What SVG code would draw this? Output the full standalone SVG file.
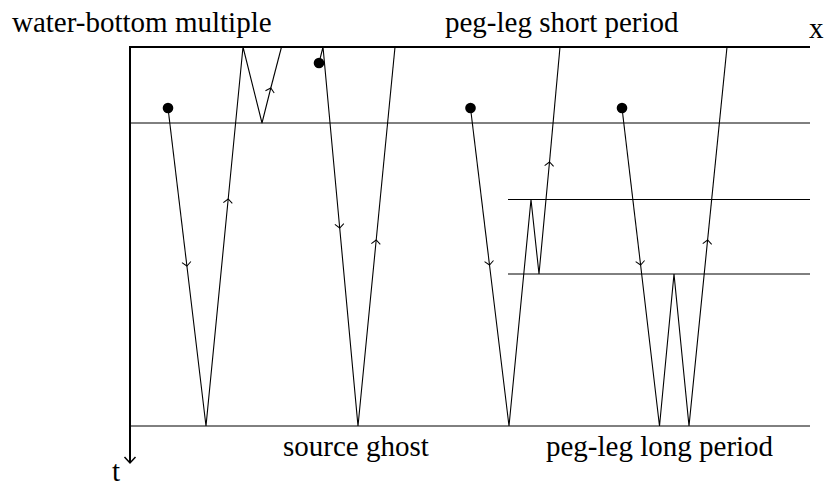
<svg xmlns="http://www.w3.org/2000/svg" width="827" height="488" viewBox="0 0 827 488">
<style>
.lbl{font-family:"Liberation Serif","Times New Roman",serif;font-size:29px;fill:#000}
.ray{fill:none;stroke:#000;stroke-width:1.1}
.hz{fill:none;stroke:#000;stroke-width:1}
.frame{fill:none;stroke:#000;stroke-width:2}
.dot{fill:#000}
</style>
<defs>
<marker id="arr" markerUnits="userSpaceOnUse" markerWidth="12" markerHeight="12" viewBox="-6 -6 12 12" refX="0" refY="0" orient="auto">
<path d="M-4,-4.5 L0,0 L-4,4.5" fill="none" stroke="#000" stroke-width="1"/>
</marker>
</defs>
<rect width="827" height="488" fill="#fff"/>
<g id="axes">
<line class="frame" x1="129" y1="47" x2="810" y2="47"/>
<line class="frame" x1="130" y1="47" x2="130" y2="462"/>
<path d="M124.5,457 L130,463 L135.5,457" fill="none" stroke="#000" stroke-width="1.5"/>
<line class="hz" x1="130" y1="123" x2="810" y2="123"/>
<line class="hz" x1="130" y1="426" x2="810" y2="426"/>
<line class="hz" x1="508" y1="199.5" x2="810" y2="199.5"/>
<line class="hz" x1="508" y1="274" x2="810" y2="274"/>
</g>
<g id="connectors">
<g id="water-bottom-multiple">
<path class="ray" d="M168,108 L186.9,266" marker-end="url(#arr)"/>
<path class="ray" d="M186.9,266 L206,426 L228.2,199" marker-end="url(#arr)"/>
<path class="ray" d="M228.2,199 L243,47 L262,123 L270.8,88" marker-end="url(#arr)"/>
<path class="ray" d="M270.8,88 L281.5,47"/>
<circle class="dot" cx="168" cy="108" r="5.3"/>
</g>
<g id="source-ghost">
<path class="ray" d="M319,63 L323,47 L339.7,228" marker-end="url(#arr)"/>
<path class="ray" d="M339.7,228 L358,426 L376.2,240" marker-end="url(#arr)"/>
<path class="ray" d="M376.2,240 L395,47"/>
<circle class="dot" cx="319" cy="63" r="5.3"/>
</g>
<g id="peg-leg-short">
<path class="ray" d="M470.5,108 L489.5,265" marker-end="url(#arr)"/>
<path class="ray" d="M489.5,265 L509,426 L531,199.5 L539,274 L549.5,162" marker-end="url(#arr)"/>
<path class="ray" d="M549.5,162 L560,47"/>
<circle class="dot" cx="470.5" cy="108" r="5.3"/>
</g>
<g id="peg-leg-long">
<path class="ray" d="M622,108 L640.6,265" marker-end="url(#arr)"/>
<path class="ray" d="M640.6,265 L659.5,426 L674,274 L689,426 L707.6,240" marker-end="url(#arr)"/>
<path class="ray" d="M707.6,240 L727,47"/>
<circle class="dot" cx="622" cy="108" r="5.3"/>
</g>
</g>
<g id="labels">
<text class="lbl" x="12" y="32">water-bottom multiple</text>
<text class="lbl" x="445" y="32">peg-leg short period</text>
<text class="lbl" x="283" y="456">source ghost</text>
<text class="lbl" x="546" y="456">peg-leg long period</text>
<text class="lbl" x="809" y="38">x</text>
<text class="lbl" x="112" y="481">t</text>
</g>
</svg>
